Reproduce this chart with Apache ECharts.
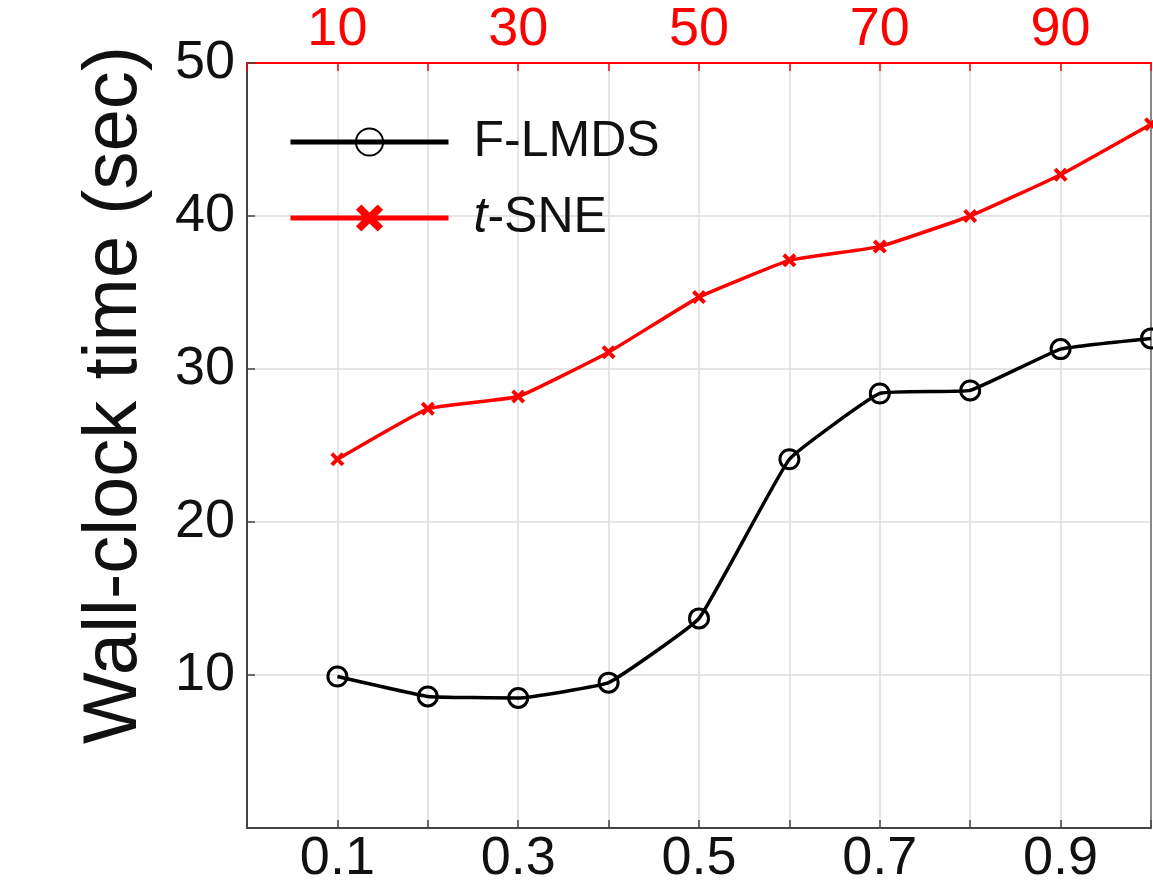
<!DOCTYPE html>
<html>
<head>
<meta charset="utf-8">
<script src="https://cdn.jsdelivr.net/npm/echarts@6/dist/echarts.min.js"></script>
<style>html,body{margin:0;padding:0;background:#fff;}#c{width:1153px;height:882px;}</style>
</head>
<body>
<div id="c"></div>
<script>
const xRatio = [0.1, 0.2, 0.3, 0.4, 0.5, 0.6, 0.7, 0.8, 0.9, 1.0];
const flmds = [9.9, 8.6, 8.5, 9.5, 13.7, 24.1, 28.4, 28.6, 31.3, 32.0];
const tsne = [24.1, 27.4, 28.2, 31.1, 34.7, 37.1, 38.0, 40.0, 42.7, 46.0];
const bottomTickLabels = ['0.1', '0.3', '0.5', '0.7', '0.9'];
const topTickLabels = ['10', '30', '50', '70', '90'];
const yTickLabels = ['10', '20', '30', '40', '50'];
const yTitle = 'Wall-clock time (sec)';

const FONT = 'Liberation Sans, Arial, sans-serif';
const chart = echarts.init(document.getElementById('c'), null, {renderer: 'canvas'});
const xSym = 'path://M2,0 L5,3 L8,0 L10,2 L7,5 L10,8 L8,10 L5,7 L2,10 L0,8 L3,5 L0,2 Z';

chart.setOption({
  animation: false,
  backgroundColor: '#fff',
  grid: {left: 247, right: 2, top: 63, bottom: 54, containLabel: false, outerBoundsMode: 'none'},
  graphic: [{
    type: 'text', x: 115, y: 395, rotation: Math.PI / 2,
    style: {text: yTitle, fontFamily: FONT, fontSize: 76, fill: '#111', align: 'center', verticalAlign: 'middle'}
  }],
  legend: {
    left: 283, top: 112, orient: 'vertical', itemGap: 26,
    itemWidth: 158, itemHeight: 34,
    lineStyle: {width: 5},
    textStyle: {fontFamily: FONT, fontSize: 50, color: '#111', padding: [0, 0, 0, 20],
      rich: {i: {fontFamily: FONT, fontSize: 50, fontStyle: 'italic', color: '#111'}}},
    formatter: function (n) { return n === 't-SNE' ? '{i|t}-SNE' : n; },
    data: ['F-LMDS', 't-SNE']
  },
  xAxis: [{
    type: 'value', min: 0, max: 1, interval: 0.1, position: 'bottom',
    axisLine: {show: true, onZero: false, lineStyle: {color: '#444', width: 2}},
    axisTick: {show: true, inside: true, length: 8, lineStyle: {color: '#444', width: 1.5}},
    axisLabel: {fontFamily: FONT, fontSize: 54, color: '#111', margin: 4,
      formatter: function (v) { const s = v.toFixed(1); return bottomTickLabels.indexOf(s) >= 0 ? s : ''; }},
    splitLine: {show: true, lineStyle: {color: '#dcdcdc', width: 1.5}}
  }, {
    type: 'value', min: 0, max: 100, interval: 10, position: 'top',
    axisLine: {show: true, onZero: false, lineStyle: {color: '#ff0000', width: 2}},
    axisTick: {show: true, inside: true, length: 8, lineStyle: {color: '#ff0000', width: 1.5}},
    axisLabel: {fontFamily: FONT, fontSize: 54, color: '#ff0000', margin: 6,
      formatter: function (v) { const s = String(Math.round(v)); return topTickLabels.indexOf(s) >= 0 ? s : ''; }},
    splitLine: {show: false}
  }],
  yAxis: [{
    type: 'value', min: 0, max: 50, interval: 10, position: 'left',
    axisLine: {show: true, onZero: false, lineStyle: {color: '#444', width: 2}},
    axisTick: {show: true, inside: true, length: 8, lineStyle: {color: '#444', width: 1.5}},
    axisLabel: {fontFamily: FONT, fontSize: 54, color: '#111', margin: 12,
      formatter: function (v) { const s = String(Math.round(v)); return yTickLabels.indexOf(s) >= 0 ? s : ''; }},
    splitLine: {show: true, lineStyle: {color: '#dcdcdc', width: 1.5}}
  }, {
    type: 'value', min: 0, max: 50, interval: 10, position: 'right',
    axisLine: {show: true, onZero: false, lineStyle: {color: '#888', width: 2}},
    axisTick: {show: false}, axisLabel: {show: false}, splitLine: {show: false}
  }],
  series: [{
    name: 'F-LMDS', type: 'line', xAxisIndex: 0, yAxisIndex: 0,
    data: xRatio.map((x, i) => [x, flmds[i]]),
    smooth: 0.1, symbol: 'circle', symbolSize: 19, showAllSymbol: true,
    lineStyle: {color: '#000', width: 3.5},
    itemStyle: {color: 'rgba(255,255,255,0)', borderColor: '#000', borderWidth: 3},
    z: 3
  }, {
    name: 't-SNE', type: 'line', xAxisIndex: 0, yAxisIndex: 0,
    data: xRatio.map((x, i) => [x, tsne[i]]),
    smooth: 0.1, symbol: xSym, symbolSize: 14, showAllSymbol: true,
    lineStyle: {color: '#ff0000', width: 3.5},
    itemStyle: {color: '#ff0000', borderColor: '#ff0000', borderWidth: 0},
    z: 3
  }]
});
</script>
</body>
</html>
